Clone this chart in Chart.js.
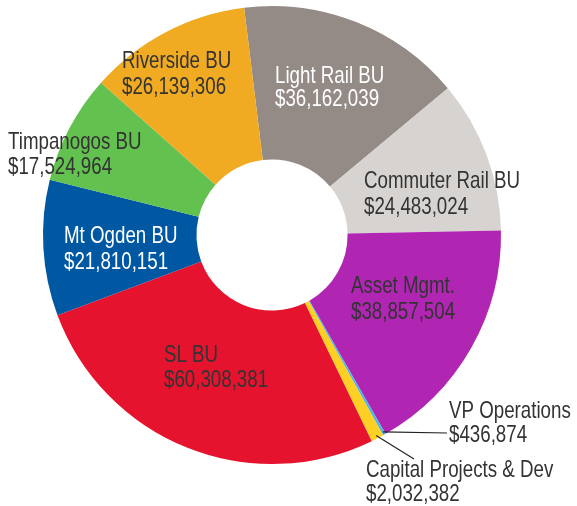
<!DOCTYPE html>
<html>
<head>
<meta charset="utf-8">
<script src="https://cdn.jsdelivr.net/npm/chart.js@4/dist/chart.umd.min.js"></script>
<style>
  html, body { margin: 0; padding: 0; background: #fff; }
  #wrap { width: 577px; height: 506px; position: relative; }
</style>
</head>
<body>
<div id="wrap"><canvas id="budget"></canvas></div>
<script>
// budget by business unit, clockwise from the top
var units = ['Light Rail BU', 'Commuter Rail BU', 'Asset Mgmt.', 'VP Operations', 'Capital Projects & Dev',
             'SL BU', 'Mt Ogden BU', 'Timpanogos BU', 'Riverside BU'];
var amounts = [36162039, 24483024, 38857504, 436874, 2032382, 60308381, 21810151, 17524964, 26139306];
var sliceColors = ['#948b87', '#d7d3d0', '#b026b3', '#4cb6e6', '#fdd023', '#e6132e', '#0058a2', '#63c150', '#f0ab22'];

// label placement: left edge, baseline of first line, line gap, text colour
var labelSpots = [
    {x: 275, y: 83, gap: 23, color: '#fff'},
    {x: 364, y: 188, gap: 26, color: '#333'},
    {x: 351, y: 293, gap: 26, color: '#333'},
    {x: 449, y: 418, gap: 24, color: '#333', leader: [447, 433]},
    {x: 366, y: 477, gap: 24, color: '#333', leader: [414, 459]},
    {x: 164, y: 362, gap: 25, color: '#333'},
    {x: 64, y: 243, gap: 26, color: '#fff'},
    {x: 8, y: 149, gap: 25, color: '#333'},
    {x: 122, y: 68, gap: 26, color: '#333'}
];

function money(v) {
    return '$' + v.toLocaleString('en-US');
}

// condensed look: squeeze a normal sans horizontally
function narrowText(ctx, txt, x, y) {
    ctx.save();
    ctx.translate(x, y);
    ctx.scale(0.78, 1);
    ctx.fillText(txt, 0, 0);
    ctx.restore();
}

var sliceLabels = {
    id: 'sliceLabels',
    afterDatasetsDraw: function(chart) {
        var ctx = chart.ctx;
        var arcs = chart.getDatasetMeta(0).data;
        ctx.save();
        ctx.font = '24px "Liberation Sans", Arial, sans-serif';
        ctx.textBaseline = 'alphabetic';
        ctx.textAlign = 'left';
        labelSpots.forEach(function(spot, i) {
            var arc = arcs[i];
            if (spot.leader) {
                var mid = (arc.startAngle + arc.endAngle) / 2;
                var r = arc.outerRadius - 3;
                ctx.strokeStyle = '#222';
                ctx.lineWidth = 1.2;
                ctx.beginPath();
                ctx.moveTo(arc.x + Math.cos(mid) * r, arc.y + Math.sin(mid) * r);
                ctx.lineTo(spot.leader[0], spot.leader[1]);
                ctx.stroke();
            }
            ctx.fillStyle = spot.color;
            narrowText(ctx, units[i], spot.x, spot.y);
            narrowText(ctx, money(amounts[i]), spot.x, spot.y + spot.gap);
        });
        ctx.restore();
    }
};

new Chart(document.getElementById('budget'), {
    type: 'doughnut',
    data: {
        labels: units,
        datasets: [{
            data: amounts,
            backgroundColor: sliceColors,
            borderWidth: 0
        }]
    },
    options: {
        responsive: true,
        maintainAspectRatio: false,
        animation: false,
        rotation: -7,
        cutout: '33%',
        layout: { padding: { left: 43, top: 6, right: 76, bottom: 42 } },
        plugins: {
            legend: { display: false },
            tooltip: { enabled: false }
        }
    },
    plugins: [sliceLabels]
});
</script>
</body>
</html>
